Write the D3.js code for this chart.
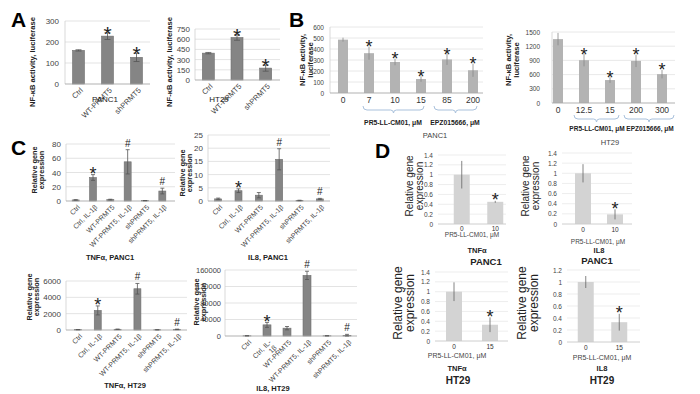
<!DOCTYPE html>
<html><head><meta charset="utf-8">
<script src="https://cdn.jsdelivr.net/npm/d3@7"></script>
<style>
body{margin:0;background:#fff}
svg{display:block;font-family:"Liberation Sans",Arial,sans-serif}
</style>
</head><body>
<svg id="c" width="700" height="394"></svg>
<script>
// ---------- DATA ----------
const aCats = ["Ctrl", "WT-PRMT5", "shPRMT5"];
const aPancVals = [160, 228, 127];
const aPancErr = [3, 16, 20];
const aPancMarks = ["", "*", "*"];
const aPancTicks = [0, 100, 200, 300];
const aHtVals = [395, 625, 175];
const aHtErr = [10, 40, 45];
const aHtMarks = ["", "*", "*"];
const aHtTicks = [0, 150, 300, 450, 600, 750];

const bPancCats = ["0", "7", "10", "15", "85", "200"];
const bPancVals = [485, 362, 282, 127, 305, 207];
const bPancErr = [18, 60, 30, 25, 50, 60];
const bPancMarks = ["", "*", "*", "*", "*", "*"];
const bPancTicks = [0, 100, 200, 300, 400, 500, 600];
const bHtCats = ["0", "12.5", "15", "200", "300"];
const bHtVals = [1350, 905, 485, 890, 610];
const bHtErr = [130, 130, 60, 130, 90];
const bHtMarks = ["", "*", "*", "*", "*"];
const bHtTicks = [0, 300, 600, 900, 1200, 1500];

const cCats = ["Ctrl", "Ctrl, IL-1β", "WT-PRMT5", "WT-PRMT5, IL-1β", "shPRMT5", "shPRMT5, IL-1β"];
const cCatsWrap = ["Ctrl", "Ctrl, IL-\n1β", "WT-PRMT5", "WT-PRMT5, IL-1β", "shPRMT5", "shPRMT5, IL-1β"];
const cMarks = ["", "*", "", "#", "", "#"];
const cTnfPancVals = [1.5, 33, 2, 55, 0.5, 14];
const cTnfPancErr = [0.3, 4, 0.5, 17, 0.2, 4];
const cTnfPancTicks = [0, 20, 40, 60, 80];
const cIl8PancVals = [0.8, 3.9, 2.2, 15.8, 0.2, 0.8];
const cIl8PancErr = [0.3, 0.7, 1, 4, 0.1, 0.2];
const cIl8PancTicks = [0, 5, 10, 15, 20, 25];
const cTnfHtVals = [40, 2400, 90, 5050, 30, 80];
const cTnfHtErr = [10, 550, 20, 650, 10, 30];
const cTnfHtTicks = [0, 2000, 4000, 6000];
const cIl8HtVals = [500, 27000, 19000, 147000, 500, 1500];
const cIl8HtErr = [200, 6000, 4000, 10000, 200, 2500];
const cIl8HtTicks = [0, 40000, 80000, 120000, 160000];

const dCats10 = ["0", "10"];
const dCats15 = ["0", "15"];
const dMarks = ["", "*"];
const dTnfPancVals = [1, 0.45];
const dTnfPancErr = [0.28, 0.02];
const dIl8PancVals = [1, 0.19];
const dIl8PancErr = [0.18, 0.1];
const dTnfHtVals = [1, 0.33];
const dTnfHtErr = [0.19, 0.15];
const dIl8HtVals = [1, 0.33];
const dIl8HtErr = [0.1, 0.14];
const dTicks14 = [0, 0.2, 0.4, 0.6, 0.8, 1, 1.2, 1.4];
const dTicks12 = [0, 0.2, 0.4, 0.6, 0.8, 1, 1.2];

// ---------- DRAW ----------
const svg = d3.select("#c");
const fmtInt = d3.format("d");
const fmtG = d3.format("~g");

function chart(o) {
  const g = svg.append("g");
  const y = d3.scaleLinear().domain([0, d3.max(o.ticks)]).range([o.bottom, o.top]);
  const x = d3.scaleBand().domain(o.cats).range(o.band);
  const gx0 = o.grid ? o.grid[0] : o.band[0];
  const gx1 = o.grid ? o.grid[1] : o.band[1];
  g.selectAll(".gl").data(o.ticks.filter(t => t > 0)).join("line")
    .attr("x1", gx0).attr("x2", gx1)
    .attr("y1", d => y(d)).attr("y2", d => y(d))
    .attr("stroke", o.gridColor || "#dcdcdc").attr("stroke-width", 0.8);
  const ax = g.append("g").attr("transform", `translate(${gx0},0)`)
    .call(d3.axisLeft(y).tickValues(o.ticks).tickSize(0).tickPadding(o.pad || 4).tickFormat(o.fmt || fmtInt));
  ax.select(".domain").remove();
  ax.selectAll("text").attr("font-size", o.tickFont || 8).attr("fill", "#444").attr("font-family", "Liberation Sans, Arial, sans-serif");
  if (o.yLine) {
    g.append("line").attr("x1", gx0).attr("x2", gx0).attr("y1", o.top).attr("y2", o.bottom)
      .attr("stroke", "#cfcfcf").attr("stroke-width", 0.8);
  }
  const bw = o.barW;
  g.selectAll(".bar").data(o.cats).join("rect")
    .attr("x", d => x(d) + x.bandwidth() / 2 - bw / 2)
    .attr("width", bw)
    .attr("y", (d, i) => y(o.vals[i]))
    .attr("height", (d, i) => o.bottom - y(o.vals[i]))
    .attr("fill", o.color).attr("stroke", o.stroke || "none").attr("stroke-width", 0.6);
  g.append("line").attr("x1", gx0).attr("x2", gx1).attr("y1", o.bottom).attr("y2", o.bottom)
    .attr("stroke", o.axisColor || "#a8a8a8").attr("stroke-width", 0.9);
  const cap = o.cap || 0;
  o.cats.forEach((d, i) => {
    const cx = x(d) + x.bandwidth() / 2;
    const e = o.errs[i];
    if (!e) return;
    const y1 = y(o.vals[i] + e), y2 = y(Math.max(0, o.vals[i] - e));
    g.append("line").attr("x1", cx).attr("x2", cx).attr("y1", y1).attr("y2", y2)
      .attr("stroke", o.errColor || "#555").attr("stroke-width", 0.8);
    if (cap) {
      [y1, y2].forEach(yy => g.append("line").attr("x1", cx - cap).attr("x2", cx + cap)
        .attr("y1", yy).attr("y2", yy).attr("stroke", o.errColor || "#555").attr("stroke-width", 0.8));
    }
    const m = o.marks[i];
    if (m) {
      g.append("text").attr("x", cx).attr("y", y1 - (m === "*" ? (o.starGap || 1) : 3) + (m === "*" ? o.starSize * 0.42 : 0))
        .attr("text-anchor", "middle")
        .attr("font-size", m === "*" ? o.starSize : o.hashSize)
        .attr("fill", "#222")
        .text(m);
    }
  });
  const labels = o.labels || o.cats;
  o.cats.forEach((d, i) => {
    const cx = x(d) + x.bandwidth() / 2;
    if (o.rot) {
      const lines = labels[i].split("\n");
      const t = g.append("text")
        .attr("transform", `translate(${cx + 3},${o.bottom + 5}) rotate(-45)`)
        .attr("text-anchor", "end").attr("font-size", o.xFont).attr("fill", "#444");
      lines.forEach((l, k) => t.append("tspan").attr("x", 0).attr("dy", k === 0 ? "0.35em" : "1.1em").text(l));
    } else {
      g.append("text").attr("x", cx).attr("y", o.bottom + o.xOff)
        .attr("text-anchor", "middle").attr("font-size", o.xFont).attr("fill", "#333").text(labels[i]);
    }
  });
  if (o.yTitle) {
    o.yTitle.forEach((l, k) => {
      svg.append("text")
        .attr("transform", `translate(${o.yTitleX[k]},${o.yTitleY}) rotate(-90)`)
        .attr("text-anchor", "middle").attr("dominant-baseline", "middle")
        .attr("font-size", o.yTitleFont).attr("font-weight", o.yTitleBold ? "bold" : "normal")
        .attr("fill", "#222").text(l);
    });
  }
  return { x, y };
}

function text(x, y, s, size, bold, anchor, color) {
  svg.append("text").attr("x", x).attr("y", y).attr("font-size", size)
    .attr("font-weight", bold ? "bold" : "normal").attr("text-anchor", anchor || "middle")
    .attr("fill", color || "#222").text(s);
}

function bracket(x1, x2, yb) {
  const xm = (x1 + x2) / 2;
  svg.append("path")
    .attr("d", `M${x1},${yb - 4} Q${x1},${yb} ${x1 + 4},${yb} L${xm - 3},${yb} Q${xm},${yb} ${xm},${yb + 3} Q${xm},${yb} ${xm + 3},${yb} L${x2 - 4},${yb} Q${x2},${yb} ${x2},${yb - 4}`)
    .attr("fill", "none").attr("stroke", "#a9c1dc").attr("stroke-width", 1);
}

// Panel letters
text(11, 27, "A", 21, true, "start", "#000");
text(289, 27, "B", 21, true, "start", "#000");
text(11, 155, "C", 21, true, "start", "#000");
text(375, 158, "D", 21, true, "start", "#000");

const nfTitle = ["NF-κB activity, luciferase"];
// A
chart({ cats: aCats, vals: aPancVals, errs: aPancErr, marks: aPancMarks, ticks: aPancTicks,
  band: [64, 151], grid: [65, 150], top: 21, bottom: 84, barW: 12, color: "#858585", stroke: "#707070",
  cap: 3, starSize: 21, hashSize: 12, starGap: 1, rot: true, xFont: 7.5, tickFont: 8, pad: 6, yLine: true,
  yTitle: nfTitle, yTitleX: [33], yTitleY: 62, yTitleFont: 7.6, yTitleBold: true });
text(105, 102, "PANC1", 8, false);
chart({ cats: aCats, vals: aHtVals, errs: aHtErr, marks: aHtMarks, ticks: aHtTicks,
  band: [194, 280], grid: [195, 280], top: 29, bottom: 80, barW: 12, color: "#858585", stroke: "#707070",
  cap: 3, starSize: 21, hashSize: 12, starGap: 1, rot: true, xFont: 7.5, tickFont: 8, pad: 5, yLine: true,
  yTitle: nfTitle, yTitleX: [170], yTitleY: 62, yTitleFont: 7.6, yTitleBold: true });
text(219, 102, "HT29", 8, false);

// B
const nfTitle2 = ["NF-κB activity,", "luciferase"];
chart({ cats: bPancCats, vals: bPancVals, errs: bPancErr, marks: bPancMarks, ticks: bPancTicks,
  band: [330, 486], grid: [330, 483], top: 27, bottom: 93, barW: 10, color: "#b3b3b3",
  cap: 0, starSize: 18, hashSize: 12, starGap: 1, rot: false, xFont: 8.5, xOff: 10, tickFont: 6.5, pad: 6, yLine: true,
  gridColor: "#e2e2e2", errColor: "#888",
  yTitle: nfTitle2, yTitleX: [303, 311], yTitleY: 60, yTitleFont: 7.6, yTitleBold: true });
bracket(363, 424, 110);
bracket(434, 477, 110);
text(393, 125, "PR5-LL-CM01, μM", 6.8, true);
text(455, 125, "EPZ015666, μM", 6.8, true);
text(435, 138, "PANC1", 7.5, false, "middle", "#444");

chart({ cats: bHtCats, vals: bHtVals, errs: bHtErr, marks: bHtMarks, ticks: bHtTicks,
  band: [545, 675], grid: [552, 675], top: 32, bottom: 103, barW: 10, color: "#b3b3b3",
  cap: 0, starSize: 18, hashSize: 12, starGap: 1, rot: false, xFont: 8.5, xOff: 10, tickFont: 6.5, pad: 12, yLine: true,
  gridColor: "#e2e2e2", errColor: "#888",
  yTitle: nfTitle2, yTitleX: [509, 517], yTitleY: 60, yTitleFont: 7.6, yTitleBold: true });
bracket(574, 619, 119);
bracket(624, 674, 119);
text(597, 131, "PR5-LL-CM01, μM", 6.5, true);
text(650, 131, "EPZ015666, μM", 6.5, true);
text(610, 145, "HT29", 7.5, false, "middle", "#444");

// C
const rgTitle = ["Relative gene", "expression"];
chart({ cats: cCats, vals: cTnfPancVals, errs: cTnfPancErr, marks: cMarks, ticks: cTnfPancTicks,
  band: [67, 171], grid: [66, 175], top: 144, bottom: 201, barW: 7, color: "#858585", stroke: "#707070",
  cap: 2, starSize: 18, hashSize: 10, starGap: 2, rot: true, xFont: 7, tickFont: 8, pad: 5, yLine: true,
  yTitle: rgTitle, yTitleX: [35, 42], yTitleY: 170, yTitleFont: 7.3, yTitleBold: true });
text(110, 260, "TNFα, PANC1", 7.5, true);

chart({ cats: cCats, vals: cIl8PancVals, errs: cIl8PancErr, marks: cMarks, ticks: cIl8PancTicks,
  band: [208, 330], grid: [208, 330], top: 135, bottom: 201, barW: 7, color: "#858585", stroke: "#707070",
  cap: 2, starSize: 18, hashSize: 10, starGap: 2, rot: true, xFont: 7, tickFont: 8, pad: 5, yLine: true,
  yTitle: rgTitle, yTitleX: [183, 190], yTitleY: 173, yTitleFont: 7.3, yTitleBold: true });
text(268, 260, "IL8, PANC1", 7.5, true);

chart({ cats: cCats, vals: cTnfHtVals, errs: cTnfHtErr, marks: cMarks, ticks: cTnfHtTicks,
  band: [68, 187], grid: [66, 187], top: 281, bottom: 330, barW: 7, color: "#858585", stroke: "#707070",
  cap: 2, starSize: 18, hashSize: 10, starGap: 2, rot: true, xFont: 7, tickFont: 8, pad: 5, yLine: true,
  yTitle: rgTitle, yTitleX: [30, 37], yTitleY: 297, yTitleFont: 7.3, yTitleBold: true });
text(125, 388, "TNFα, HT29", 7.5, true);

chart({ cats: cCats, labels: cCatsWrap, vals: cIl8HtVals, errs: cIl8HtErr, marks: cMarks, ticks: cIl8HtTicks,
  band: [237, 357], grid: [225, 357], top: 270, bottom: 336, barW: 8, color: "#858585", stroke: "#707070",
  cap: 2, starSize: 18, hashSize: 10, starGap: 2, rot: true, xFont: 7, tickFont: 7.5, pad: 4, yLine: true,
  yTitle: rgTitle, yTitleX: [197, 204], yTitleY: 302, yTitleFont: 7.3, yTitleBold: true });
text(273, 391, "IL8, HT29", 7.5, true);

// D
chart({ cats: dCats10, vals: dTnfPancVals, errs: dTnfPancErr, marks: dMarks, ticks: dTicks14, fmt: fmtG,
  band: [445, 512], grid: [438, 506], top: 155, bottom: 224, barW: 16, color: "#d3d3d3",
  cap: 0, starSize: 18, hashSize: 10, starGap: 2, rot: false, xFont: 6.5, xOff: 7, tickFont: 6.5, pad: 5,
  gridColor: "#e8e8e8", axisColor: "#c8c8c8", errColor: "#666",
  yTitle: rgTitle, yTitleX: [410, 420], yTitleY: 186, yTitleFont: 10, yTitleBold: false });
text(472, 237, "PR5-LL-CM01, μM", 6.5, false, "middle", "#444");
text(477, 253, "TNFα", 7.5, true);
text(486, 265, "PANC1", 9.5, true);

chart({ cats: dCats10, vals: dIl8PancVals, errs: dIl8PancErr, marks: dMarks, ticks: dTicks14, fmt: fmtG,
  band: [567, 631], grid: [562, 632], top: 153, bottom: 224, barW: 16, color: "#d3d3d3",
  cap: 0, starSize: 18, hashSize: 10, starGap: 2, rot: false, xFont: 6.5, xOff: 8, tickFont: 6.5, pad: 5,
  gridColor: "#e8e8e8", axisColor: "#c8c8c8", errColor: "#666",
  yTitle: rgTitle, yTitleX: [526, 536], yTitleY: 186, yTitleFont: 10, yTitleBold: false });
text(598, 244, "PR5-LL-CM01, μM", 6.5, false, "middle", "#444");
text(599, 253, "IL8", 7.5, true);
text(597, 264, "PANC1", 9.5, true);

chart({ cats: dCats15, vals: dTnfHtVals, errs: dTnfHtErr, marks: dMarks, ticks: dTicks14, fmt: fmtG,
  band: [436, 508], grid: [435, 508], top: 272, bottom: 341, barW: 16, color: "#d3d3d3",
  cap: 0, starSize: 18, hashSize: 10, starGap: 2, rot: false, xFont: 6.5, xOff: 8, tickFont: 6.5, pad: 5,
  gridColor: "#e8e8e8", axisColor: "#c8c8c8", errColor: "#666",
  yTitle: rgTitle, yTitleX: [399, 411], yTitleY: 303, yTitleFont: 12, yTitleBold: false });
text(457, 358, "PR5-LL-CM01, μM", 7, false, "middle", "#444");
text(457, 371, "TNFα", 7.5, true);
text(458, 384, "HT29", 10, true);

chart({ cats: dCats15, vals: dIl8HtVals, errs: dIl8HtErr, marks: dMarks, ticks: dTicks12, fmt: fmtG,
  band: [569, 636], grid: [567, 640], top: 270, bottom: 342, barW: 16, color: "#d3d3d3",
  cap: 0, starSize: 18, hashSize: 10, starGap: 2, rot: false, xFont: 6.5, xOff: 8, tickFont: 6.5, pad: 5,
  gridColor: "#e8e8e8", axisColor: "#c8c8c8", errColor: "#666",
  yTitle: rgTitle, yTitleX: [523, 535], yTitleY: 303, yTitleFont: 12, yTitleBold: false });
text(602, 360, "PR5-LL-CM01, μM", 7, false, "middle", "#444");
text(602, 371, "IL8", 7.5, true);
text(602, 384, "HT29", 10, true);
</script>
</body></html>
